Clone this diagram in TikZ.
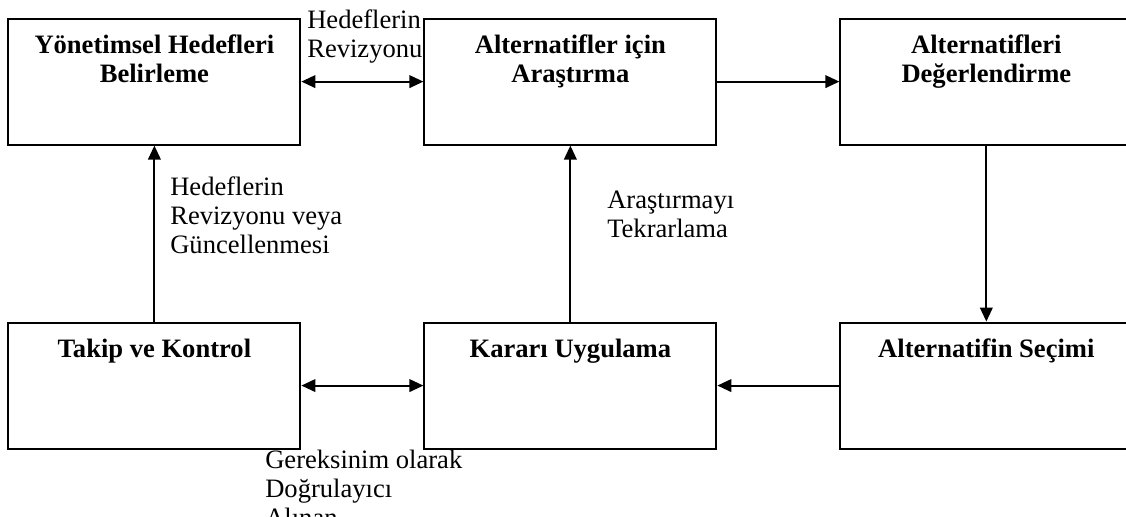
\documentclass[tikz,border=0pt]{standalone}
\usepackage{fontspec}
\setmainfont{Liberation Serif}
\usetikzlibrary{positioning,arrows.meta}

\begin{document}
\begin{tikzpicture}[box/.style={rectangle,draw=black,line width=1.4pt,minimum width=7.3cm,minimum height=3.15cm},
	title/.style={font=\fontsize{18.9}{20.6}\selectfont\bfseries,align=center,inner sep=0pt,anchor=base},
	note/.style={font=\fontsize{18.9}{20.6}\selectfont,align=left,inner sep=0pt,anchor=base west},
	link/.style={line width=1.4pt,-{Triangle[length=10pt,width=9pt]}},
	bilink/.style={line width=1.4pt,{Triangle[length=10pt,width=9pt]}-{Triangle[length=10pt,width=9pt]}},
	node distance = 4.4cm and 3.05cm]
	\useasboundingbox (0,0) rectangle (28.15,-12.9);
	\node[box] (hedef) at (3.86,-2.04) {};
	\node[box] (arastir)[right = of hedef] {};
	\node[box] (degerlendir)[right = of arastir] {};
	\node[box] (takip)[below = of hedef] {};
	\node[box] (uygula)[below = of arastir] {};
	\node[box] (secim)[below = of degerlendir] {};
	% box titles (base = last line)
	\node[title] (thedef) at ([yshift=-1.625cm]hedef.north) {Yönetimsel Hedefleri\\Belirleme};
	\node[title] (tarastir) at ([yshift=-1.625cm]arastir.north) {Alternatifler için\\Araştırma};
	\node[title] (tdegerlendir) at ([yshift=-1.625cm]degerlendir.north) {Alternatifleri\\Değerlendirme};
	\node[title] (ttakip) at ([yshift=-0.9cm]takip.north) {Takip ve Kontrol};
	\node[title] (tuygula) at ([yshift=-0.9cm]uygula.north) {Kararı Uygulama};
	\node[title] (tsecim) at ([yshift=-0.9cm]secim.north) {Alternatifin Seçimi};
	% arrows
	\draw[bilink] (hedef) -- (arastir);
	\draw[link] (arastir) -- (degerlendir);
	\draw[link] (degerlendir) -- (secim);
	\draw[link] (secim) -- (uygula);
	\draw[bilink] (takip) -- (uygula);
	\draw[link] (uygula) -- (arastir);
	\draw[link] (takip) -- (hedef);
	% labels
	\node[note] (nrev) at (7.675,-1.425) {Hedeflerin\\Revizyonu};
	\node[note] (nguncel) at (4.25,-6.325) {Hedeflerin\\Revizyonu veya\\Güncellenmesi};
	\node[note] (ntekrar) at (15.175,-5.925) {Araştırmayı\\Tekrarlama};
	\node[note] (ngerek) at (6.625,-13.15) {Gereksinim olarak\\Doğrulayıcı\\Alınan};
\end{tikzpicture}
\end{document}
